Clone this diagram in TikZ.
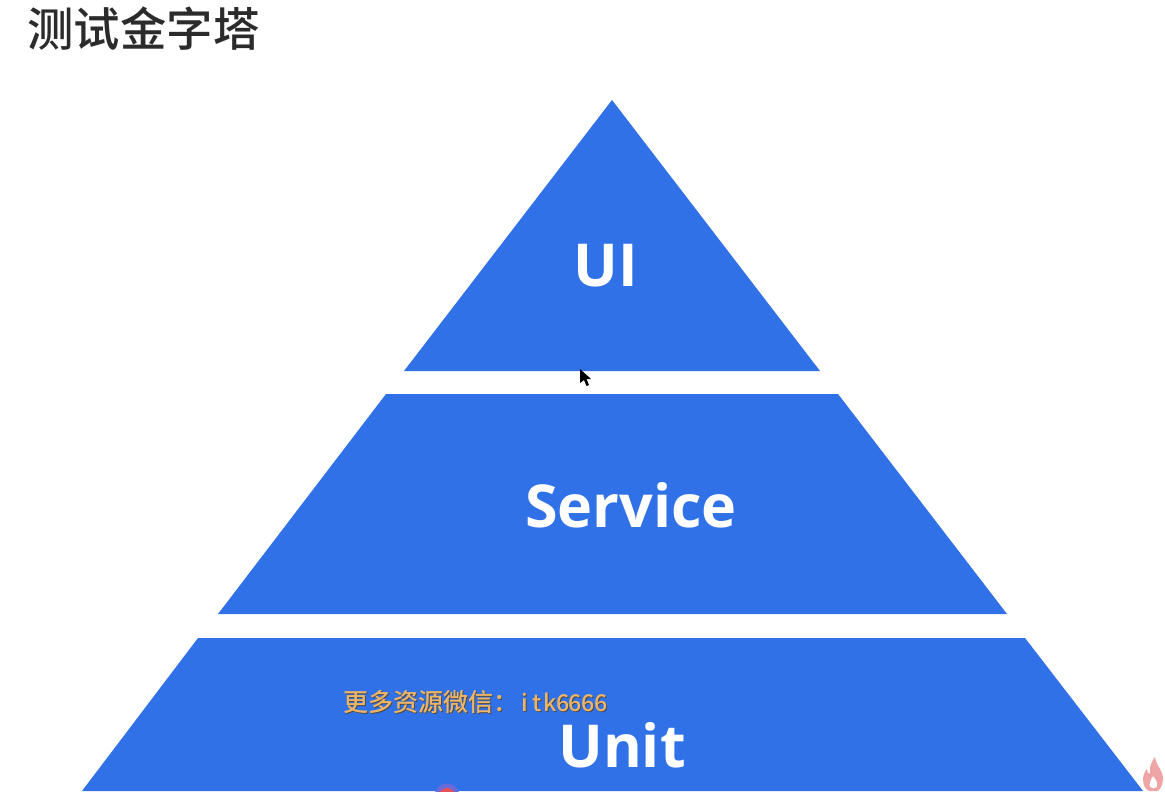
\documentclass[tikz,border=0pt]{standalone}
\usepackage{fontspec}
\newfontfamily\cjk{Noto Sans CJK SC Medium}
\newfontfamily\latinbold{Open Sans}
\definecolor{pyramidblue}{HTML}{3171E8}
\definecolor{markorange}{HTML}{EDB565}
\definecolor{titleink}{HTML}{2B2B2B}
\definecolor{flamered}{HTML}{EFA5A5}
\definecolor{dotred}{HTML}{E8505A}
\definecolor{dotring}{HTML}{6A6AD8}
\newcommand{\markchar}[1]{\makebox[6.35pt]{#1}}
\newcommand{\marktxt}{{\cjk\fontsize{12.5}{14}\selectfont 更多资源微信：}{\cjk\fontsize{11.6}{14}\selectfont \markchar{i}\markchar{t}\markchar{k}\markchar{6}\markchar{6}\markchar{6}\markchar{6}}}
\tikzset{
    level/.style={fill=pyramidblue},
    levellabel/.style={text=white, font=\latinbold\bfseries\fontsize{29.6}{31}\selectfont, inner sep=0pt},
    marktext/.style={inner sep=0pt, anchor=west},
}
\begin{document}
\begin{tikzpicture}[x=0.5pt, y=-0.5pt]
    \useasboundingbox (0,0) rectangle (1165,791);

    \fill[white] (0,0) rectangle (1165,791);

    \node[anchor=west, inner sep=0pt, text=titleink, font=\cjk\fontsize{23.2}{25}\selectfont] (title) at (27,29) {测试金字塔};

    \fill[level] (612,100) -- (820,371) -- (404,371) -- cycle;
    \fill[level] (386,394) -- (838,394) -- (1007,614) -- (218,614) -- cycle;
    \fill[level] (198,638) -- (1025,638) -- (1143,791) -- (82,791) -- cycle;

    \node[levellabel] (ui) at (606,266) {UI};
    \node[levellabel] (service) at (631,505) {Service};
    \node[levellabel] (unit) at (622,745) {Unit};

    \node[marktext, text=black!70] (markshadow) at (344,702.5) {\marktxt};
    \node[marktext, text=markorange] (mark) at (343,701.5) {\marktxt};

    % pointer
    \fill[black] (580,369) -- (580,383) -- (584,380) -- (586.5,386) -- (589,385) -- (586.5,379) -- (591,379) -- cycle;

    % recording dot
    \fill[dotring] (447,796) circle (12.5);
    \fill[dotred] (447,796) circle (8);

    % flame
    \fill[flamered, even odd rule] (1155,757)
        .. controls (1156,766) and (1163,770) .. (1163,779)
        .. controls (1163,786) and (1159,791) .. (1157,791)
        -- (1149,791)
        .. controls (1145,789) and (1143,785) .. (1143,779)
        .. controls (1143,775) and (1145,771) .. (1147,769)
        .. controls (1147,772) and (1148,774) .. (1150,774)
        .. controls (1149,768) and (1151,762) .. (1155,757) -- cycle
        (1153,776) .. controls (1150,780) and (1149,784) .. (1150,787)
        .. controls (1152,789) and (1155,789) .. (1157,787)
        .. controls (1158,783) and (1156,779) .. (1153,776) -- cycle;
\end{tikzpicture}
\end{document}
